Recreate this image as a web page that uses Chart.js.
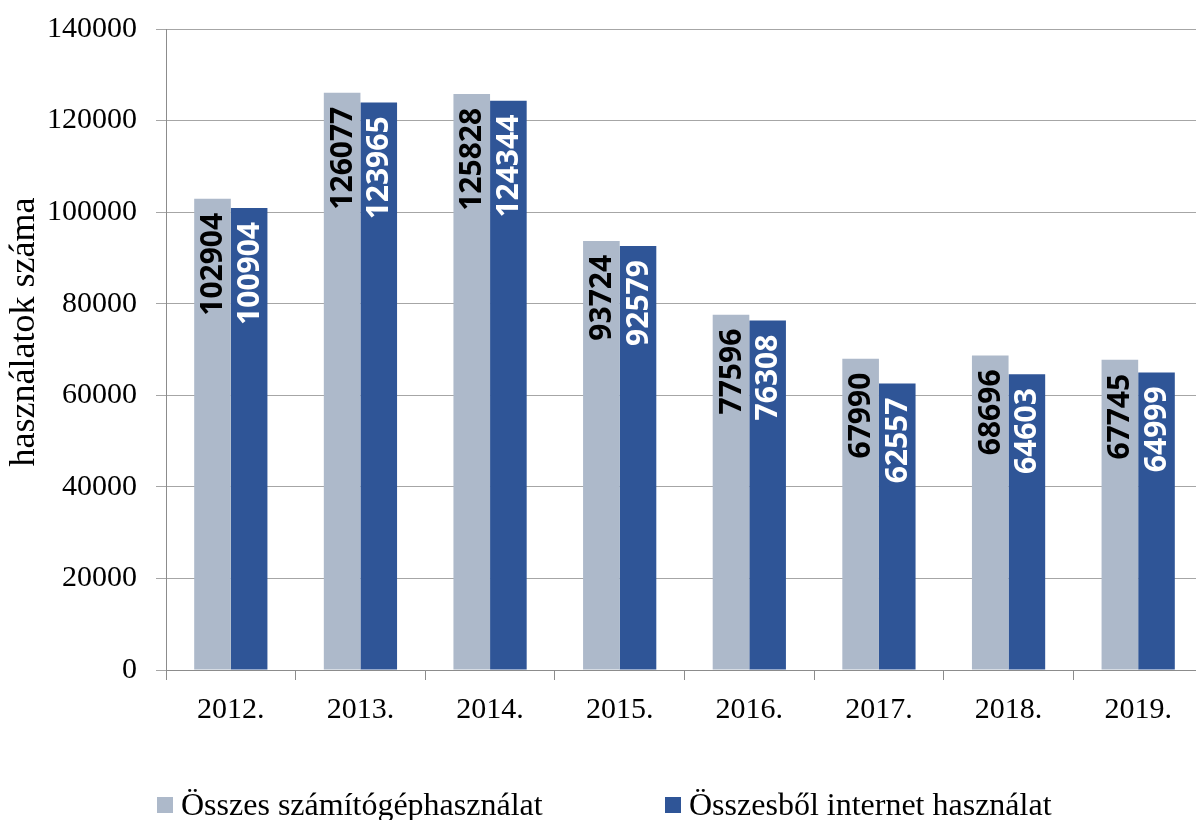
<!DOCTYPE html>
<html>
<head>
<meta charset="utf-8">
<script src="https://cdn.jsdelivr.net/npm/chart.js@4/dist/chart.umd.min.js"></script>
<style>
  html, body { margin: 0; padding: 0; background: #fff; overflow: hidden; }
  #wrap { position: relative; width: 1203px; height: 820px; }
  .leg { position: absolute; top: 786px; font-family: "Liberation Serif", serif; font-size: 32px; color: #000; white-space: nowrap; }
  .leg i { display: inline-block; width: 16px; height: 16px; margin-right: 8px; vertical-align: 2px; }
</style>
</head>
<body>
<div id="wrap">
  <canvas id="usageChart" width="1203" height="820"></canvas>
  <div class="leg" style="left:157px"><i style="background:#adb9ca"></i>Összes számítógéphasználat</div>
  <div class="leg" style="left:665px"><i style="background:#2f5597"></i>Összesből internet használat</div>
</div>
<script>
const years = ['2012.', '2013.', '2014.', '2015.', '2016.', '2017.', '2018.', '2019.'];
const totalUse = [102904, 126077, 125828, 93724, 77596, 67990, 68696, 67745];
const internetUse = [100904, 123965, 124344, 92579, 76308, 62557, 64603, 64999];
const seriesNames = ['Összes számítógéphasználat', 'Összesből internet használat'];
const yTitle = 'használatok száma';

const labelColors = ['#000000', '#ffffff'];

// values written upright inside the top of each bar
const barLabels = {
  id: 'barLabels',
  afterDatasetsDraw(chart) {
    const ctx = chart.ctx;
    chart.data.datasets.forEach((ds, i) => {
      const meta = chart.getDatasetMeta(i);
      meta.data.forEach((bar, j) => {
        ctx.save();
        ctx.translate(bar.x, bar.y + 14);
        ctx.rotate(-Math.PI / 2);
        ctx.font = 'bold 30px "Open Sans"';
        ctx.fillStyle = labelColors[i];
        ctx.textAlign = 'right';
        ctx.textBaseline = 'middle';
        ctx.fillText(String(ds.data[j]), 0, 1);
        ctx.restore();
      });
    });
  }
};

// y axis title, placed a bit above the plot's middle like the original
const yAxisTitle = {
  id: 'yAxisTitle',
  afterDraw(chart) {
    const ctx = chart.ctx;
    ctx.save();
    ctx.translate(25, 332);
    ctx.rotate(-Math.PI / 2);
    ctx.font = '36px "Liberation Serif"';
    ctx.fillStyle = '#000';
    ctx.textAlign = 'center';
    ctx.textBaseline = 'middle';
    ctx.fillText(yTitle, 0, 0);
    ctx.restore();
  }
};

window.addEventListener('load', () => {
  const ctx = document.getElementById('usageChart');
  new Chart(ctx, {
    type: 'bar',
    data: {
      labels: years,
      datasets: [
        {label: seriesNames[0], data: totalUse, backgroundColor: '#adb9ca'},
        {label: seriesNames[1], data: internetUse, backgroundColor: '#2f5597'}
      ]
    },
    options: {
      responsive: false,
      animation: false,
      layout: {padding: {top: 29, left: 0, right: 0, bottom: 0}},
      datasets: {bar: {barPercentage: 1, categoryPercentage: 0.565}},
      plugins: {legend: {display: false}, tooltip: {enabled: false}},
      scales: {
        x: {
          afterFit: s => { s.height = 150; s.paddingLeft = 0; s.paddingRight = 0; },
          grid: {display: true, drawOnChartArea: false, tickLength: 10, color: '#8c8c8c'},
          border: {color: '#8c8c8c'},
          ticks: {color: '#000', padding: 12, font: {family: 'Liberation Serif', size: 30}}
        },
        y: {
          min: 0, max: 140000,
          afterFit: s => { s.width = 166; s.paddingTop = 0; s.paddingBottom = 0; },
          grid: {color: '#a6a6a6', tickLength: 10},
          border: {color: '#8c8c8c'},
          ticks: {stepSize: 20000, color: '#000', padding: 19, font: {family: 'Liberation Serif', size: 30},
                  callback: v => String(v)}
        }
      }
    },
    plugins: [barLabels, yAxisTitle]
  });
});
</script>
</body>
</html>
